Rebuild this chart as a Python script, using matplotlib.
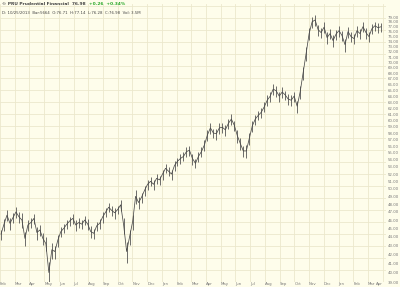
import numpy as np
import matplotlib
matplotlib.use("Agg")
import matplotlib.pyplot as plt

# ---- data (one value every ~3 px of chart width) ----
closes = [
    44.3, 45.5, 46.6, 45.6, 46.3, 47.0, 46.4, 46.0, 43.8, 45.4,
    45.7, 46.2, 44.5, 44.8, 43.8, 43.2, 40.0, 42.5, 42.3, 43.6,
    44.6, 45.0, 45.5, 45.9, 46.2, 45.4, 45.7, 45.5, 46.0, 45.5,
    44.6, 44.4, 45.3, 45.6, 46.4, 47.0, 47.6, 47.2, 46.9, 47.3,
    47.9, 45.4, 42.3, 44.0, 45.8, 49.0, 48.2, 48.9, 49.8, 50.6,
    51.0, 50.6, 51.4, 51.2, 52.0, 52.8, 52.4, 52.0, 53.2, 53.8,
    54.2, 54.5, 55.2, 55.4, 54.2, 53.5, 54.5, 55.2, 56.2, 57.7,
    58.8, 58.0, 57.9, 58.8, 58.9, 58.5, 59.5, 60.2, 59.2, 57.6,
    56.4, 55.3, 55.3, 57.2, 59.1, 60.2, 60.8, 61.3, 62.2, 63.3,
    64.0, 65.2, 64.9, 64.0, 64.7, 64.2, 63.5, 63.3, 64.0, 62.3,
    64.7, 68.1, 71.7, 75.6, 78.0, 78.4, 76.4, 75.8, 76.9, 74.8,
    75.6, 74.2, 75.5, 76.2, 75.2, 73.4, 76.0, 75.0, 74.6, 76.2,
    75.6, 77.0, 75.8, 75.0, 76.6, 77.2, 76.8, 76.98,
]
# vertical extent ($) of the bar cluster around each sampled point
spreads = [
    1.2, 1.4, 1.3, 1.5, 1.2, 1.3, 1.4, 1.8, 1.6, 1.3,
    1.2, 1.3, 1.5, 1.2, 1.4, 1.6, 2.4, 1.8, 1.5, 1.4,
    1.2, 1.1, 1.0, 1.1, 1.2, 1.3, 1.1, 1.0, 1.2, 1.3,
    1.4, 1.2, 1.1, 1.2, 1.3, 1.2, 1.1, 1.2, 1.3, 1.1,
    1.4, 2.0, 2.4, 1.8, 1.9, 1.8, 1.5, 1.3, 1.4, 1.3,
    1.2, 1.4, 1.3, 1.2, 1.4, 1.3, 1.2, 1.4, 1.3, 1.2,
    1.4, 1.3, 1.5, 1.4, 1.6, 1.3, 1.4, 1.5, 1.6, 1.7,
    1.6, 1.5, 1.7, 1.6, 1.5, 1.7, 1.6, 1.8, 1.7, 1.9,
    1.8, 1.7, 1.9, 1.8, 1.7, 1.6, 1.5, 1.6, 1.7, 1.8,
    1.7, 1.9, 1.8, 1.7, 1.8, 1.6, 1.9, 1.8, 1.7, 2.0,
    2.2, 2.5, 2.6, 2.4, 2.2, 2.1, 2.3, 2.0, 2.2, 2.4,
    2.1, 2.3, 2.0, 2.2, 2.1, 2.5, 2.2, 2.0, 2.1, 2.2,
    2.0, 2.1, 2.2, 2.0, 2.1, 1.9, 2.0, 1.8,
]
month_labels = ["Feb", "Mar", "Apr", "May", "Jun", "Jul", "Aug", "Sep", "Oct",
                "Nov", "Dec", "Jan", "Feb", "Mar", "Apr", "May", "Jun", "Jul",
                "Aug", "Sep", "Oct", "Nov", "Dec", "Jan", "Feb", "Mar", "Apr"]
price_ticks = list(range(39, 80))

title_main = "\u00a9 PRU Prudential Financial  76.98"
title_chg = "+0.26  +0.34%"
subtitle = "D: 10/25/2013  Bar:5664  O:76.71  H:77.14  L:76.28  C:76.98  Vol: 3.5M"

# ---- figure ----
W, H = 400, 287
fig = plt.figure(figsize=(W / 100, H / 100), dpi=100)
bg = "#FEFDEB"
fig.patch.set_facecolor(bg)
ax = fig.add_axes([0, 5 / H, 386 / W, 278 / H])
ax.set_facecolor(bg)

x = np.arange(len(closes))
c = np.array(closes)
s = np.array(spreads)
ax.set_yscale("log")
ax.set_xlim(-0.2, 128.7)
ax.set_ylim(39.0, 81.8)

grid_c = "#ECE8CC"
mpos = [(-1 + 14.76 * k) / 3.0 for k in range(len(month_labels))]
for p in mpos:
    ax.axvline(p, color=grid_c, lw=0.6, zorder=0)
for k in range(1, 24):
    ax.plot([0, 1], [k * 12 / 278, k * 12 / 278], transform=ax.transAxes,
            color=grid_c, lw=0.6, zorder=0)

ax.vlines(x, c - 0.55 * s, c + 0.45 * s, color="#555555", lw=0.6, zorder=3)
ax.plot(x, closes, color="#4a4a4a", lw=0.55, zorder=3)

ax.yaxis.tick_right()
ax.set_yticks(price_ticks)
ax.set_yticklabels([f"{v:.2f}" for v in price_ticks])
ax.yaxis.set_minor_locator(matplotlib.ticker.NullLocator())
ax.tick_params(axis="y", length=0, pad=1.2, labelsize=2.8, colors="#777777")
ax.set_xticks(mpos)
ax.set_xticklabels(month_labels, ha="left")
ax.xaxis.get_ticklabels()[-1].set_horizontalalignment("right")
ax.tick_params(axis="x", length=0, pad=0.2, labelsize=2.8, colors="#777777")
for sp in ax.spines.values():
    sp.set_visible(False)

t1 = fig.text(0.005, 0.993, title_main, fontsize=3.2, fontweight="bold",
              color="#444444", va="top", ha="left")
fig.canvas.draw()
bb = t1.get_window_extent(fig.canvas.get_renderer())
fig.text(bb.x1 / W + 0.008, 0.993, title_chg, fontsize=3.2, fontweight="bold",
         color="#2aa82a", va="top", ha="left")
fig.text(0.005, 0.96, subtitle, fontsize=2.8, color="#444444",
         va="top", ha="left")

fig.savefig("out.png", dpi=100, facecolor=bg)
